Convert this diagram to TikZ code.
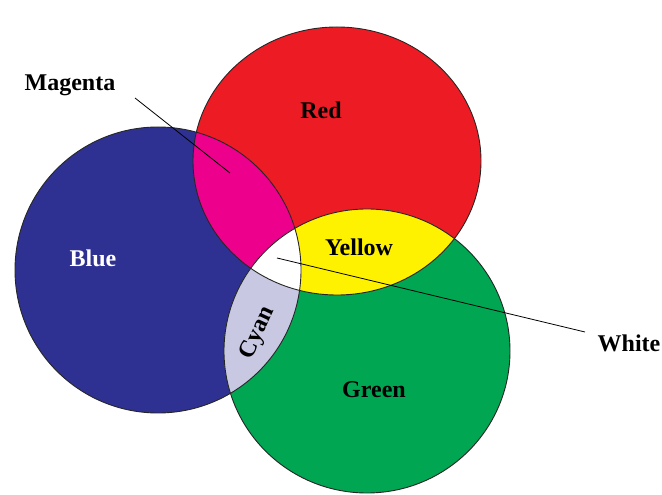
\documentclass[tikz,border=0pt]{standalone}
\usepackage{fontspec}
\setmainfont{Liberation Serif}
\definecolor{redfill}{RGB}{237,28,36}
\definecolor{bluefill}{RGB}{46,49,146}
\definecolor{greenfill}{RGB}{0,166,81}
\definecolor{magfill}{RGB}{236,0,140}
\definecolor{yellowfill}{RGB}{255,242,0}
\definecolor{cyanfill}{RGB}{200,200,226}
\def\redring{(337,334) ellipse [x radius=144,y radius=134]}
\def\bluering{(158,225) ellipse [x radius=143,y radius=143]}
\def\greenring{(367,144) ellipse [x radius=143,y radius=142]}
\begin{document}
\begin{tikzpicture}[x=1pt,y=1pt,line width=0.9pt,
  ring/.style={draw=black!85},
  pointer/.style={draw=black,line width=0.8pt},
  tag/.style={font=\fontsize{24}{28}\selectfont\bfseries,inner sep=0pt}]
 \path[fill=white] (0,0) rectangle (662,495);
 % the three lights
 \fill[bluefill] \bluering;
 \fill[redfill] \redring;
 \fill[greenfill] \greenring;
 % the mixtures
 \begin{scope}
  \clip \redring;
  \fill[magfill] \bluering;
 \end{scope}
 \begin{scope}
  \clip \bluering;
  \fill[cyanfill] \greenring;
 \end{scope}
 \begin{scope}
  \clip \redring;
  \fill[yellowfill] \greenring;
 \end{scope}
 \begin{scope}
  \clip \redring;
  \clip \bluering;
  \fill[white] \greenring;
 \end{scope}
 \path[ring] \bluering \redring \greenring;
 \node[tag] (red) at (321,385) {Red};
 \node[tag,text=white] (blue) at (93,237) {Blue};
 \node[tag] (yellow) at (359,248) {Yellow};
 \node[tag] (green) at (374,105) {Green};
 \node[tag,rotate=65] (cyan) at (258,162) {Cyan};
 \node[tag] (magenta) at (70,410) {Magenta};
 \node[tag] (white) at (629,152) {White};
 \coordinate (magtail) at (135,397);
 \coordinate (magtip) at (230,322);
 \coordinate (whitetip) at (277,237);
 \coordinate (whitetail) at (585,163);
 \draw[pointer] (magtail) -- (magtip);
 \draw[pointer] (whitetip) -- (whitetail);
\end{tikzpicture}
\end{document}
